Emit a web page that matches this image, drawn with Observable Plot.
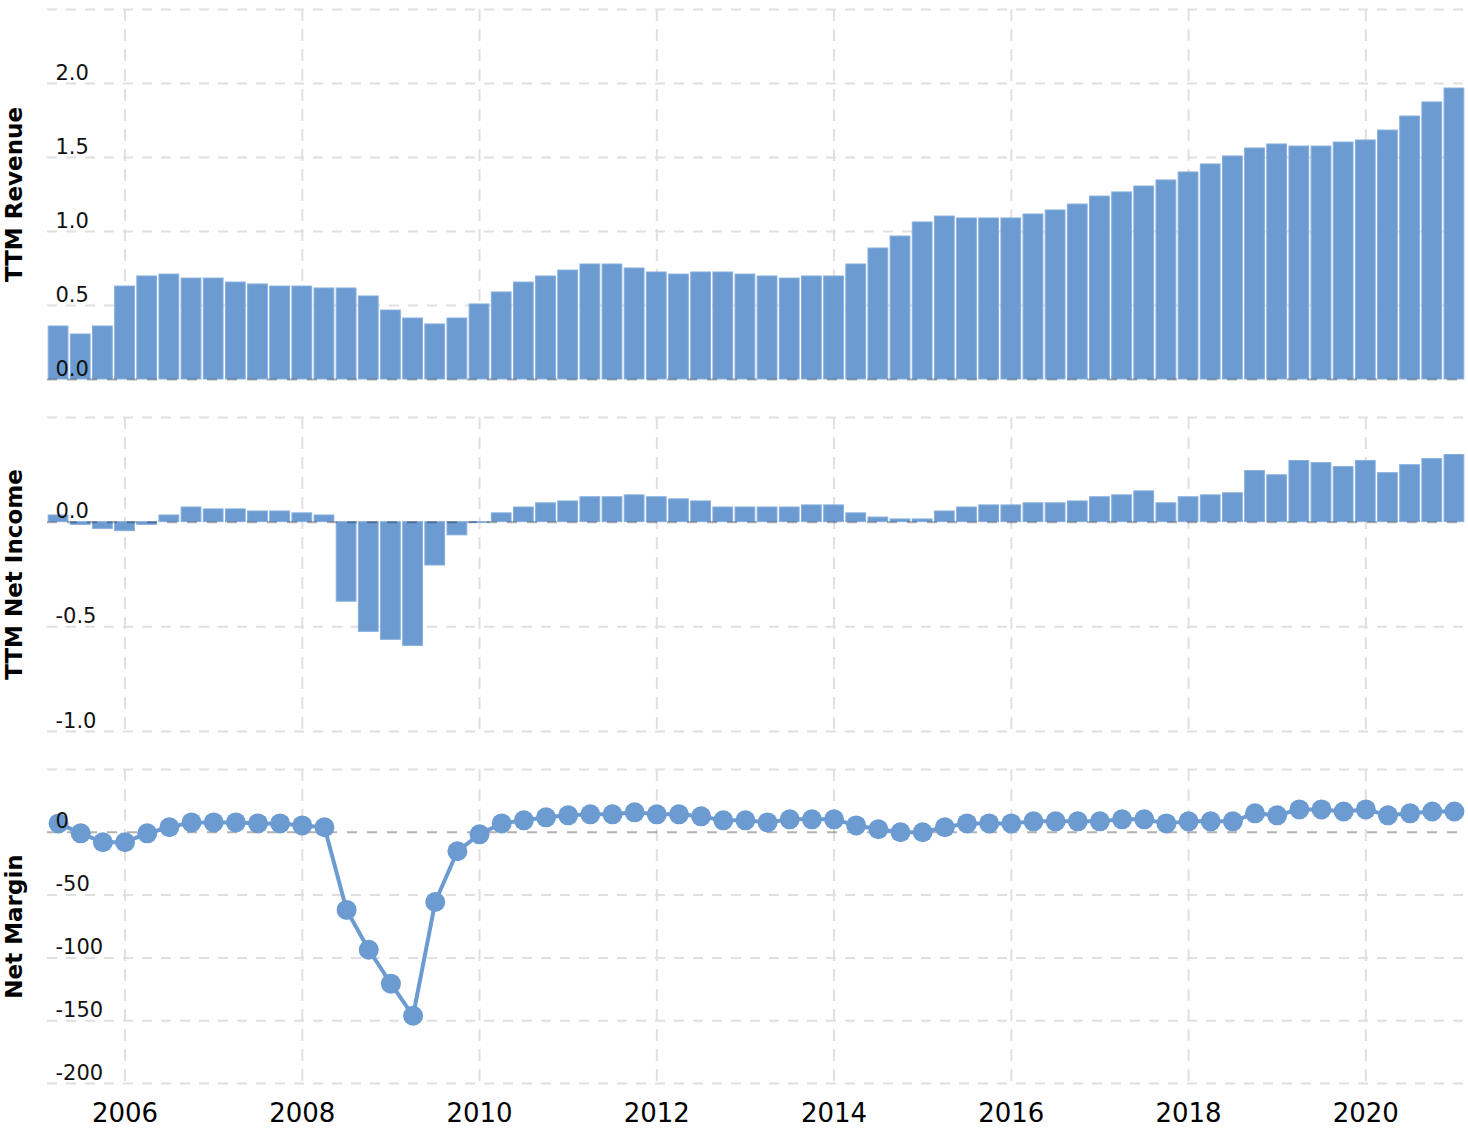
<!DOCTYPE html>
<html>
<head>
<meta charset="utf-8">
<script src="https://cdn.jsdelivr.net/npm/d3@7"></script>
<script src="https://cdn.jsdelivr.net/npm/@observablehq/plot@0.6"></script>
<style>
  html, body { margin: 0; padding: 0; background: #fff; }
  #chart svg { display: block; overflow: visible; }
</style>
</head>
<body>
<div id="chart"></div>
<script>
const quarterEnds = [
  "2005-03-31","2005-06-30","2005-09-30","2005-12-31",
  "2006-03-31","2006-06-30","2006-09-30","2006-12-31",
  "2007-03-31","2007-06-30","2007-09-30","2007-12-31",
  "2008-03-31","2008-06-30","2008-09-30","2008-12-31",
  "2009-03-31","2009-06-30","2009-09-30","2009-12-31",
  "2010-03-31","2010-06-30","2010-09-30","2010-12-31",
  "2011-03-31","2011-06-30","2011-09-30","2011-12-31",
  "2012-03-31","2012-06-30","2012-09-30","2012-12-31",
  "2013-03-31","2013-06-30","2013-09-30","2013-12-31",
  "2014-03-31","2014-06-30","2014-09-30","2014-12-31",
  "2015-03-31","2015-06-30","2015-09-30","2015-12-31",
  "2016-03-31","2016-06-30","2016-09-30","2016-12-31",
  "2017-03-31","2017-06-30","2017-09-30","2017-12-31",
  "2018-03-31","2018-06-30","2018-09-30","2018-12-31",
  "2019-03-31","2019-06-30","2019-09-30","2019-12-31",
  "2020-03-31","2020-06-30","2020-09-30","2020-12-31"
];

const ttmRevenue = [
  0.358,0.304,0.358,0.628,0.696,0.709,0.682,0.682,0.655,0.642,
  0.628,0.628,0.615,0.615,0.561,0.466,0.412,0.372,0.412,0.507,
  0.588,0.655,0.696,0.736,0.777,0.777,0.750,0.723,0.709,0.723,
  0.723,0.709,0.696,0.682,0.696,0.696,0.777,0.885,0.966,1.061,
  1.101,1.088,1.088,1.088,1.115,1.142,1.182,1.236,1.264,1.304,
  1.345,1.399,1.453,1.507,1.561,1.588,1.574,1.574,1.601,1.615,
  1.682,1.777,1.872,1.966
];

const ttmNetIncome = [
  0.032,-0.013,-0.032,-0.043,-0.013,0.032,0.070,0.061,0.061,0.051,
  0.051,0.042,0.032,-0.380,-0.524,-0.562,-0.591,-0.207,-0.063,-0.004,
  0.042,0.070,0.090,0.099,0.119,0.119,0.128,0.119,0.109,0.099,
  0.070,0.070,0.070,0.070,0.080,0.080,0.042,0.022,0.013,0.013,
  0.051,0.070,0.080,0.080,0.090,0.090,0.099,0.119,0.128,0.147,
  0.090,0.119,0.128,0.138,0.244,0.224,0.292,0.282,0.263,0.292,
  0.234,0.272,0.301,0.321
];

const netMargin = [
  7.1,-0.8,-7.9,-7.9,-0.8,4.0,7.9,7.9,7.9,7.1,
  7.1,5.5,4.0,-61.8,-93.5,-120.5,-146.1,-55.5,-15.1,-1.6,
  7.1,9.5,11.9,13.5,14.3,14.3,15.9,14.3,14.3,12.7,
  9.5,9.5,7.9,10.3,10.3,10.3,5.5,2.4,0.0,0.0,
  4.0,7.1,7.1,7.1,8.7,8.7,8.7,8.7,10.3,10.3,
  7.1,8.7,8.7,8.7,15.1,13.5,18.2,18.2,16.6,18.2,
  13.5,15.1,16.6,16.6
];

const yearTicks = [2006, 2008, 2010, 2012, 2014, 2016, 2018, 2020];
const revenueTicks = [0, 0.5, 1.0, 1.5, 2.0];
const revenueGrid = [0.5, 1.0, 1.5, 2.0, 2.5];
const incomeTicks = [0, -0.5, -1.0];
const incomeGrid = [0.5, -0.5, -1.0];
const marginTicks = [0, -50, -100, -150, -200];
const marginGrid = [50, -50, -100, -150, -200];

const BLUE = "#6b9bd1";
const GRID = "#e0e0e0";
const X_DOMAIN = [2005.125, 2021.125];

const toYear = s => { const [y, m] = s.split("-").map(Number); return y + m / 12; };
const data = quarterEnds.map((q, i) => ({
  t: toYear(q), rev: ttmRevenue[i], ni: ttmNetIncome[i], nm: netMargin[i]
}));

function baseMarks(grid) {
  return [
    Plot.gridX(yearTicks, {stroke: GRID, strokeOpacity: 1, strokeWidth: 2, strokeDasharray: "12,8"}),
    Plot.gridY(grid, {stroke: GRID, strokeOpacity: 1, strokeWidth: 2, strokeDasharray: "10,9"})
  ];
}
function zeroRule() {
  return Plot.ruleY([0], {stroke: "#000", strokeOpacity: 0.3, strokeWidth: 2, strokeDasharray: "10,10"});
}
function tickLabels(ticks, fmt) {
  return Plot.text(ticks, {
    y: d => d, text: fmt, frameAnchor: "left", textAnchor: "start", lineAnchor: "bottom",
    dx: 8, dy: -4, fontSize: 21, fill: "#111"
  });
}
function axisTitle(label) {
  return Plot.text([label], {
    text: d => d, frameAnchor: "left", textAnchor: "middle", lineAnchor: "middle",
    rotate: -90, dx: -33, fontSize: 23, fontWeight: "bold", fill: "#000"
  });
}
const style = {fontFamily: "DejaVu Sans", background: "#fff", fontSize: "26px", color: "#000", overflow: "visible"};

const revenuePlot = Plot.plot({
  width: 1468, height: 400, marginTop: 9, marginBottom: 21, marginLeft: 47, marginRight: 3,
  style,
  x: {domain: X_DOMAIN, axis: null},
  y: {domain: [0, 2.5], axis: null},
  marks: [
    ...baseMarks(revenueGrid),
    Plot.rectY(data, {x1: d => d.t - 0.125, x2: d => d.t + 0.125, y: "rev", fill: BLUE,
      stroke: "#86aede", strokeWidth: 1, insetLeft: 1.2, insetRight: 1.2}),
    zeroRule(),
    tickLabels(revenueTicks, d => d.toFixed(1)),
    axisTitle("TTM Revenue")
  ]
});

const incomePlot = Plot.plot({
  width: 1468, height: 350, marginTop: 17, marginBottom: 19, marginLeft: 47, marginRight: 3,
  style,
  x: {domain: X_DOMAIN, axis: null},
  y: {domain: [-1.0, 0.5], axis: null},
  marks: [
    ...baseMarks(incomeGrid),
    Plot.rectY(data, {x1: d => d.t - 0.125, x2: d => d.t + 0.125, y: "ni", fill: BLUE,
      stroke: "#86aede", strokeWidth: 1, insetLeft: 1.2, insetRight: 1.2}),
    zeroRule(),
    tickLabels(incomeTicks, d => d.toFixed(1)),
    axisTitle("TTM Net Income")
  ]
});

const marginPlot = Plot.plot({
  width: 1468, height: 378, marginTop: 19, marginBottom: 45, marginLeft: 47, marginRight: 3,
  style,
  x: {domain: X_DOMAIN, ticks: yearTicks, tickFormat: d => String(d), tickSize: 0, tickPadding: 20, label: null},
  y: {domain: [-200, 50], axis: null},
  marks: [
    ...baseMarks(marginGrid),
    zeroRule(),
    Plot.line(data, {x: "t", y: "nm", stroke: BLUE, strokeWidth: 4}),
    Plot.dot(data, {x: "t", y: "nm", r: 10, fill: BLUE, stroke: "none"}),
    tickLabels(marginTicks, d => String(d)),
    axisTitle("Net Margin")
  ]
});

const root = document.getElementById("chart");
root.append(revenuePlot, incomePlot, marginPlot);
</script>
</body>
</html>
